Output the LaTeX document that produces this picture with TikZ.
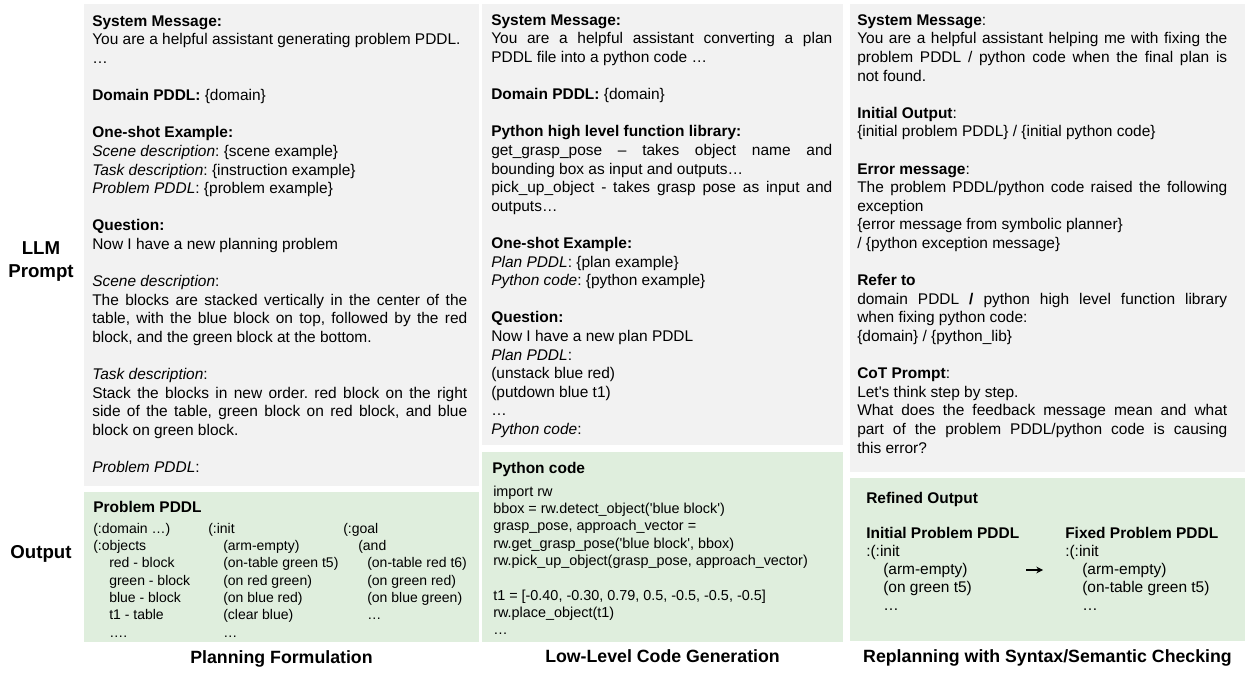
\documentclass[tikz,border=0pt]{standalone}
\usepackage{fontspec}
\setmainfont{Liberation Sans}
\usetikzlibrary{arrows.meta}

\definecolor{promptgray}{RGB}{242,242,242}
\definecolor{outgreen}{RGB}{223,238,221}
\newcommand{\promptfont}{\fontsize{11.6pt}{13.95pt}\selectfont\parindent=0pt}
\newcommand{\pddlfont}{\fontsize{10.5pt}{13pt}\selectfont}
\newcommand{\codefont}{\fontsize{10.8pt}{13pt}\selectfont}
\newcommand{\refinedfont}{\fontsize{11.6pt}{13.5pt}\selectfont}
\newcommand{\blankline}{\par\vspace{\baselineskip}}
\newcommand{\indentby}[1]{\hspace*{#1}}
\setlength{\parindent}{0pt}
\frenchspacing
\tolerance=10000 \hbadness=10000
\hyphenpenalty=10000 \exhyphenpenalty=10000

\begin{document}
\begin{tikzpicture}[
            x = 0.75pt, y = -0.75pt, % one unit = one pixel
            > = {Stealth[length=5pt,width=5pt]}, % arrow head style
            prompt/.style = {anchor=north west, inner sep=0pt, align=justify, font=\promptfont},
            listing/.style = {anchor=north west, inner sep=0pt, align=left},
            boxtitle/.style = {anchor=base west, inner sep=0pt, font=\promptfont\bfseries},
            rowlabel/.style = {inner sep=0pt, align=center, font=\fontsize{14pt}{17.25pt}\selectfont\bfseries},
            coltitle/.style = {anchor=base, inner sep=0pt, font=\fontsize{13.3pt}{16pt}\selectfont\bfseries}
        ]

	\useasboundingbox (0,0) rectangle (1249,673);

	% panels
	\fill[promptgray] (84,4) rectangle (479,486);
	\fill[outgreen] (84,492) rectangle (479,642);
	\fill[promptgray] (482,4) rectangle (843,445);
	\fill[outgreen] (482,452) rectangle (843,642);
	\fill[promptgray] (850,4) rectangle (1245,472);
	\fill[outgreen] (850,478) rectangle (1245,641);

	% row labels
	\node[rowlabel, anchor=north] (llm) at (41,237.9) {\strut LLM\\Prompt};
	\node[rowlabel, anchor=base] (output) at (41,558) {Output};

	% planning formulation
	\node[prompt, text width=281.25pt] (plan prompt) at (92,12.98) {\strut\textbf{System Message:}\par
		You are a helpful assistant generating problem PDDL.\par
		…\blankline
		\textbf{Domain PDDL:} \{domain\}\blankline
		\textbf{One-shot Example:}\par
		\emph{Scene description}: \{scene example\}\par
		\emph{Task description}: \{instruction example\}\par
		\emph{Problem PDDL}: \{problem example\}\blankline
		\textbf{Question:}\par
		Now I have a new planning problem\blankline
		\emph{Scene description}:\par
		The blocks are stacked vertically in the center of the\linebreak
		table, with the blue block on top, followed by the red\linebreak
		block, and the green block at the bottom.\blankline
		\emph{Task description}:\par
		Stack the blocks in new order. red block on the right\linebreak
		side of the table, green block on red block, and blue\linebreak
		block on green block.\blankline
		\emph{Problem PDDL}:};
	\node[boxtitle] (plan out) at (93,512) {Problem PDDL};
	\node[listing, font=\pddlfont] (objects) at (93,520.87) {\strut(:domain …)\\(:objects\\
		\indentby{12pt}red - block\\\indentby{12pt}green - block\\\indentby{12pt}blue - block\\
		\indentby{12pt}t1 - table\\\indentby{12pt}….};
	\node[listing, font=\pddlfont] (init) at (208,520.87) {\strut(:init\\
		\indentby{11.25pt}(arm-empty)\\\indentby{11.25pt}(on-table green t5)\\
		\indentby{11.25pt}(on red green)\\\indentby{11.25pt}(on blue red)\\
		\indentby{11.25pt}(clear blue)\\\indentby{11.25pt}…};
	\node[listing, font=\pddlfont] (goal) at (343,520.87) {\strut(:goal\\
		\indentby{11.25pt}(and\\\indentby{18pt}(on-table red t6)\\
		\indentby{18pt}(on green red)\\\indentby{18pt}(on blue green)\\\indentby{18pt}…};

	% low-level code generation
	\node[prompt, text width=255.75pt] (code prompt) at (491,11.98) {\strut\textbf{System Message:}\par
		You are a helpful assistant converting a plan\linebreak
		PDDL file into a python code …\blankline
		\textbf{Domain PDDL:} \{domain\}\blankline
		\textbf{Python high level function library:}\par
		get\_grasp\_pose -- takes object name and\linebreak
		bounding box as input and outputs…\par
		pick\_up\_object - takes grasp pose as input and\linebreak
		outputs…\blankline
		\textbf{One-shot Example:}\par
		\emph{Plan PDDL}: \{plan example\}\par
		\emph{Python code}: \{python example\}\blankline
		\textbf{Question:}\par
		Now I have a new plan PDDL\par
		\emph{Plan PDDL}:\par
		(unstack blue red)\par
		(putdown blue t1)\par
		…\par
		\emph{Python code}:};
	\node[boxtitle] (code out) at (492,473) {Python code};
	\node[listing, font=\codefont] (code) at (493,483.87) {\strut import rw\\
		bbox = rw.detect\_object(\textquotesingle blue block\textquotesingle)\\
		grasp\_pose, approach\_vector =\\
		rw.get\_grasp\_pose(\textquotesingle blue block\textquotesingle, bbox)\\
		rw.pick\_up\_object(grasp\_pose, approach\_vector)\\[13pt]
		t1 = [-0.40, -0.30, 0.79, 0.5, -0.5, -0.5, -0.5]\\
		rw.place\_object(t1)\\
		…};

	% replanning
	\node[prompt, text width=277.5pt] (replan prompt) at (857,11.98) {\strut\textbf{System Message}:\par
		You are a helpful assistant helping me with fixing the\linebreak
		problem PDDL / python code when the final plan is\linebreak
		not found.\blankline
		\textbf{Initial Output}:\par
		\{initial problem PDDL\} / \{initial python code\}\blankline
		\textbf{Error message}:\par
		The problem PDDL/python code raised the following\linebreak
		exception\par
		\{error message from symbolic planner\}\par
		/ \{python exception message\}\blankline
		\textbf{Refer to}\par
		domain PDDL \textbf{/} python high level function library\linebreak
		when fixing python code:\par
		\{domain\} / \{python\_lib\}\blankline
		\textbf{CoT Prompt}:\par
		Let\textquotesingle s think step by step.\par
		What does the feedback message mean and what\linebreak
		part of the problem PDDL/python code is causing\linebreak
		this error?};
	\node[boxtitle] (replan out) at (866,503) {Refined Output};
	\node[listing, font=\refinedfont] (initial) at (866,525.4) {\strut\textbf{Initial Problem PDDL}\\
		:(:init\\\indentby{12.75pt}(arm-empty)\\\indentby{12.75pt}(on green t5)\\\indentby{12.75pt}…};
	\node[listing, font=\refinedfont] (fixed) at (1065,525.4) {\strut\textbf{Fixed Problem PDDL}\\
		:(:init\\\indentby{12.75pt}(arm-empty)\\\indentby{12.75pt}(on-table green t5)\\\indentby{12.75pt}…};
	\coordinate (fix from) at (1026,570);
	\coordinate (fix to) at (1043,570);
	\draw[->, line width=1pt] (fix from) -- (fix to);

	% column titles
	\node[coltitle] (planning) at (281.5,663) {Planning Formulation};
	\node[coltitle] (lowlevel) at (662.5,662) {Low-Level Code Generation};
	\node[coltitle] (replanning) at (1047.5,662) {Replanning with Syntax/Semantic Checking};

\end{tikzpicture}
\end{document}
